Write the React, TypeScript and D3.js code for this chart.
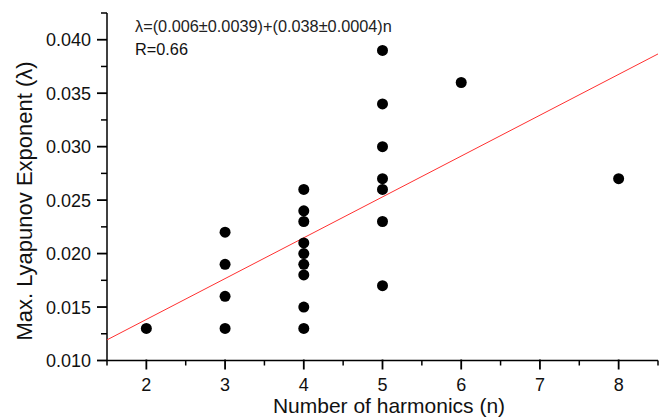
import React from "react";
import * as d3 from "d3";

const harmonics = [2, 3, 3, 3, 3, 4, 4, 4, 4, 4, 4, 4, 4, 4, 5, 5, 5, 5, 5, 5, 5, 6, 8];
const exponents = [
  0.013,
  0.022, 0.019, 0.016, 0.013,
  0.026, 0.024, 0.023, 0.021, 0.020, 0.019, 0.018, 0.015, 0.013,
  0.039, 0.034, 0.030, 0.027, 0.026, 0.023, 0.017,
  0.036,
  0.027,
];
const fitIntercept = 0.0062;
const fitSlope = 0.00382;
const xTicks = [2, 3, 4, 5, 6, 7, 8];
const yTicks = [0.01, 0.015, 0.02, 0.025, 0.03, 0.035, 0.04];
const xMinorTicks = [1.5, 2.5, 3.5, 4.5, 5.5, 6.5, 7.5, 8.5];
const yMinorTicks = [0.0125, 0.0175, 0.0225, 0.0275, 0.0325, 0.0375, 0.0425];
const equationText = "λ=(0.006±0.0039)+(0.038±0.0004)n";
const rText = "R=0.66";

export default function App() {
  const W = 665, H = 420;
  const x = d3.scaleLinear().domain([1.5, 8.5]).range([107, 658]);
  const y = d3.scaleLinear().domain([0.01, 0.0425]).range([360.5, 13]);
  const font = "'Liberation Sans', Arial, Helvetica, sans-serif";
  const fitX = [1.5, 8.5];
  const line = d3.line<number>().x((d) => x(d)).y((d) => y(fitIntercept + fitSlope * d));

  return (
    <svg width={W} height={H} style={{ position: "absolute", left: 0, top: 0, background: "#fff" }} fontFamily={font}>
      <rect width={W} height={H} fill="#fff" />
      {/* axes */}
      <line x1={x(1.5)} x2={x(8.5)} y1={y(0.01)} y2={y(0.01)} stroke="#000" strokeWidth={1.5} />
      <line x1={x(1.5)} x2={x(1.5)} y1={y(0.01)} y2={y(0.0425)} stroke="#000" strokeWidth={1.5} />
      {xTicks.map((t) => (
        <g key={"xt" + t}>
          <line x1={x(t)} x2={x(t)} y1={y(0.01) - 1} y2={y(0.01) + 9} stroke="#000" strokeWidth={1.8} />
          <text x={x(t)} y={391} fontSize={18} textAnchor="middle" fill="#111">{t}</text>
        </g>
      ))}
      {xMinorTicks.map((t) => (
        <line key={"xm" + t} x1={x(t)} x2={x(t)} y1={y(0.01)} y2={y(0.01) + 5} stroke="#000" strokeWidth={1.5} />
      ))}
      {yTicks.map((t) => (
        <g key={"yt" + t}>
          <line x1={x(1.5) - 10} x2={x(1.5)} y1={y(t)} y2={y(t)} stroke="#000" strokeWidth={1.8} />
          <text x={91} y={y(t)} dy="0.36em" fontSize={18} textAnchor="end" fill="#111">{d3.format(".3f")(t)}</text>
        </g>
      ))}
      {yMinorTicks.map((t) => (
        <line key={"ym" + t} x1={x(1.5) - 6} x2={x(1.5)} y1={y(t)} y2={y(t)} stroke="#000" strokeWidth={1.5} />
      ))}
      {/* fit line */}
      <path d={line(fitX) || ""} fill="none" stroke="#ff3030" strokeWidth={1} />
      {/* points */}
      {harmonics.map((n, i) => (
        <circle key={"p" + i} cx={x(n)} cy={y(exponents[i])} r={5.5} fill="#000" />
      ))}
      {/* annotations */}
      <text x={135} y={32} fontSize={16.3} fill="#222">{equationText}</text>
      <text x={135} y={55} fontSize={16.3} fill="#111">{rText}</text>
      {/* axis labels */}
      <text x={389} y={413} fontSize={21} textAnchor="middle" fill="#111">Number of harmonics (n)</text>
      <text transform={`translate(32, 201) rotate(-90)`} fontSize={22} textAnchor="middle" fill="#111">Max. Lyapunov Exponent (λ)</text>
    </svg>
  );
}
